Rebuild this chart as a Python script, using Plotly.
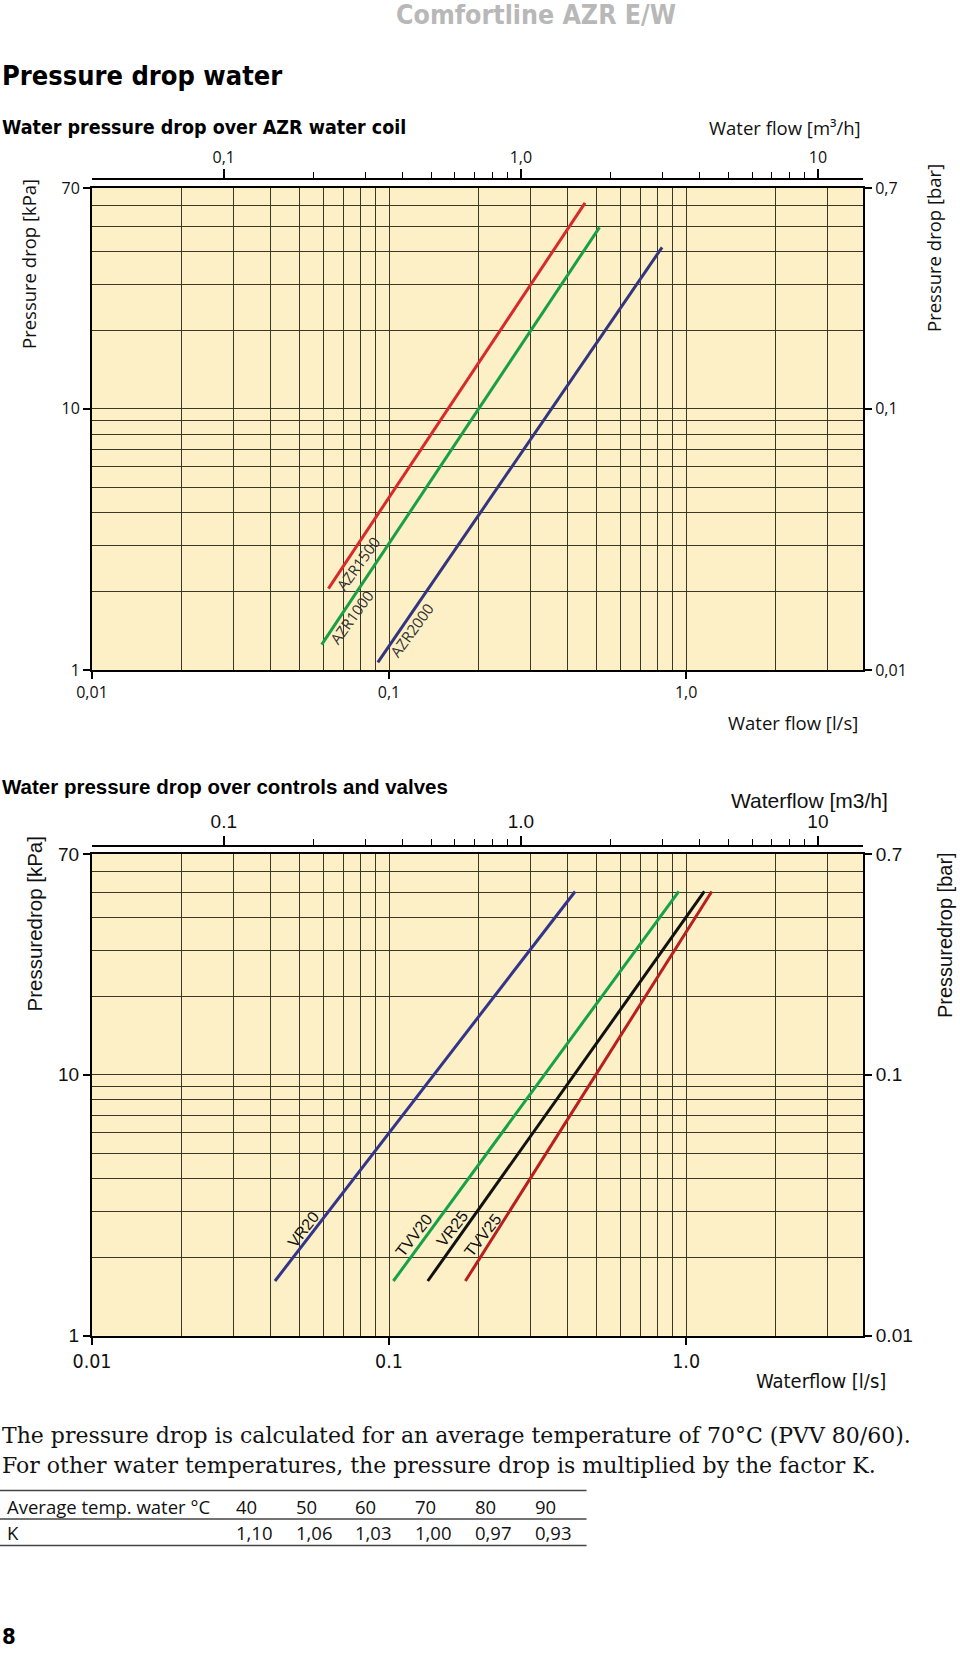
import numpy as np
import plotly.graph_objects as go

W, H = 960, 1654

# chart 1: water coil, flow [l/s] vs pressure drop [kPa]
azr_names = ["AZR1500", "AZR1000", "AZR2000"]
azr_flow = [[0.0625, 0.457], [0.0593, 0.511], [0.0917, 0.830]]
azr_dp = [[2.05, 61.4], [1.25, 49.5], [1.07, 41.5]]
azr_colors = ["#d62a2c", "#1b9e49", "#34357f"]
azr_label_flow = [0.0788, 0.0749, 0.1192]
azr_label_dp = [2.57, 1.59, 1.42]

# chart 2: controls and valves
valve_names = ["VR20", "TVV20", "VR25", "TVV25"]
valve_flow = [[0.0413, 0.423], [0.1034, 0.945], [0.135, 1.152], [0.1807, 1.22]]
valve_dp = [[1.62, 50.3], [1.62, 50.3], [1.62, 50.3], [1.62, 50.3]]
valve_colors = ["#33358a", "#17a14a", "#111111", "#b81f1f"]
valve_label_flow = [0.0514, 0.1214, 0.1633, 0.2061]
valve_label_dp = [2.56, 2.41, 2.58, 2.43]

# temperature correction table
temps = ["40", "50", "60", "70", "80", "90"]
k_factor = ["1,10", "1,06", "1,03", "1,00", "0,97", "0,93"]

flow_grid = [0.02, 0.03, 0.04, 0.05, 0.06, 0.07, 0.08, 0.09,
             0.2, 0.3, 0.4, 0.5, 0.6, 0.7, 0.8, 0.9, 2, 3]
dp_grid = [2, 3, 4, 5, 6, 7, 8, 9, 20, 30, 40, 50, 60]
m3h_minor = [0.2, 0.3, 0.4, 0.5, 0.6, 0.7, 0.8, 0.9, 2, 3, 4, 5, 6, 7, 8, 9]

FLOW_RANGE = [np.log10(0.01), np.log10(3.94)]
M3H_RANGE = [r + np.log10(3.6) for r in FLOW_RANGE]
DP_RANGE = [0, np.log10(70)]
BAR_RANGE = [-2, np.log10(0.7)]

GRID = "#3b3726"
BG = "#fdf0c6"
FRUT = "Open Sans, Noto Sans, sans-serif"
HELV = "Liberation Sans, Arial, sans-serif"
NARROW = "DejaVu Sans Condensed, sans-serif"


def px(x):
    return x / W


def py(y):
    return 1 - y / H


X_DOM = [px(92), px(863)]
Y1_DOM = [py(670), py(188)]
Y2_DOM = [py(1335.7), py(854)]


def bottom_axis(anchor, ticktext, font):
    return dict(domain=X_DOM, anchor=anchor, type="log", range=FLOW_RANGE,
                tickmode="array", tickvals=[0.01, 0.1, 1], ticktext=ticktext,
                ticks="outside", ticklen=7, tickwidth=2, tickcolor="black",
                showline=True, linewidth=2, linecolor="black", mirror=True,
                showgrid=True, gridcolor=GRID, gridwidth=1, zeroline=False,
                minor=dict(tickmode="array", tickvals=flow_grid, showgrid=True,
                           gridcolor=GRID, gridwidth=1, ticks=""),
                tickfont=font, automargin=False, fixedrange=True)


def left_axis(domain, anchor, ticktext, font):
    return dict(domain=domain, anchor=anchor, type="log", range=DP_RANGE,
                tickmode="array", tickvals=[1, 10, 70], ticktext=ticktext,
                ticks="outside", ticklen=7, tickwidth=2, tickcolor="black",
                showline=True, linewidth=2, linecolor="black", mirror=True,
                showgrid=True, gridcolor=GRID, gridwidth=1, zeroline=False,
                minor=dict(tickmode="array", tickvals=dp_grid, showgrid=True,
                           gridcolor=GRID, gridwidth=1, ticks=""),
                tickfont=font, automargin=False, fixedrange=True)


def top_axis(over, pos, ticktext, font):
    return dict(domain=X_DOM, overlaying=over, anchor="free", position=pos,
                side="top", type="log", range=M3H_RANGE,
                tickmode="array", tickvals=[0.1, 1, 10], ticktext=ticktext,
                ticks="outside", ticklen=9, tickwidth=2, tickcolor="black",
                showline=True, linewidth=2, linecolor="black", showgrid=False,
                zeroline=False,
                minor=dict(tickmode="array", tickvals=m3h_minor, ticks="outside",
                           ticklen=6, tickwidth=1, tickcolor="black", showgrid=False),
                tickfont=font, automargin=False, fixedrange=True)


def right_axis(over, anchor, ticktext, font):
    return dict(overlaying=over, anchor=anchor, side="right", type="log",
                range=BAR_RANGE, tickmode="array", tickvals=[0.01, 0.1, 0.7],
                ticktext=ticktext, ticks="outside", ticklen=7, tickwidth=2,
                tickcolor="black", showline=True, linewidth=2, linecolor="black",
                showgrid=False, zeroline=False, tickfont=font,
                automargin=False, fixedrange=True)


fig = go.Figure()

for name, fl, dp, col in zip(azr_names, azr_flow, azr_dp, azr_colors):
    fig.add_trace(go.Scatter(x=fl, y=dp, mode="lines", name=name,
                             line=dict(color=col, width=3),
                             xaxis="x", yaxis="y", showlegend=False))

for name, fl, dp, col in zip(valve_names, valve_flow, valve_dp, valve_colors):
    fig.add_trace(go.Scatter(x=fl, y=dp, mode="lines", name=name,
                             line=dict(color=col, width=3),
                             xaxis="x3", yaxis="y3", showlegend=False))

# empty traces so the secondary axes get drawn
fig.add_trace(go.Scatter(x=[None], y=[None], xaxis="x2", yaxis="y2",
                         showlegend=False, hoverinfo="skip"))
fig.add_trace(go.Scatter(x=[None], y=[None], xaxis="x4", yaxis="y4",
                         showlegend=False, hoverinfo="skip"))

f1_tick = dict(family=FRUT, size=16, color="#111")
f2_tick = dict(family=HELV, size=19, color="#111")
f2_bot = dict(family=NARROW, size=19.5, color="#111")

fig.update_layout(
    width=W, height=H, autosize=False,
    margin=dict(l=0, r=0, t=0, b=0, pad=0, autoexpand=False),
    paper_bgcolor="white", plot_bgcolor=BG, showlegend=False,
    xaxis=bottom_axis("y", ["0,01", "0,1", "1,0"], f1_tick),
    yaxis=left_axis(Y1_DOM, "x", ["1", "10", "70"], f1_tick),
    xaxis2=top_axis("x", py(179), ["0,1", "1,0", "10"], f1_tick),
    yaxis2=right_axis("y", "x", ["0,01", "0,1", "0,7"], f1_tick),
    xaxis3=bottom_axis("y3", ["0.01", "0.1", "1.0"], f2_bot),
    yaxis3=left_axis(Y2_DOM, "x3", ["1", "10", "70"], f2_tick),
    xaxis4=top_axis("x3", py(845.7), ["0.1", "1.0", "10"], f2_tick),
    yaxis4=right_axis("y3", "x3", ["0.01", "0.1", "0.7"], f2_tick),
)

ann = []


def text(x, y, s, font, xanchor="left", angle=0):
    ann.append(dict(x=px(x), y=py(y), xref="paper", yref="paper", text=s,
                    showarrow=False, xanchor=xanchor, yanchor="middle",
                    textangle=angle, font=font))


# page texts
text(536, 15, "Comfortline AZR E/W",
     dict(family=NARROW, size=26.5, color="#b8b8b8", weight="bold"), "center")
text(0, 76, "Pressure drop water",
     dict(family=NARROW, size=27, color="black", weight="bold"))

# chart 1 texts
text(0, 127.6, "Water pressure drop over AZR water coil",
     dict(family=NARROW, size=19.5, color="black", weight="bold"))
text(863, 127.6, "Water flow [m³/h]", dict(family=FRUT, size=18.5, color="#111"), "right")
text(28, 264, "Pressure drop [kPa]", dict(family=FRUT, size=18.5, color="#111"), "center", -90)
text(933, 248, "Pressure drop [bar]", dict(family=FRUT, size=18.5, color="#111"), "center", -90)
text(860, 722.7, "Water flow [l/s]", dict(family=FRUT, size=18.5, color="#111"), "right")

# chart 2 texts
text(0, 786.7, "Water pressure drop over controls and valves",
     dict(family=HELV, size=20.5, color="black", weight="bold"))
text(890, 800, "Waterflow [m3/h]", dict(family=HELV, size=21, color="#111"), "right")
text(34, 924.5, "Pressuredrop [kPa]", dict(family=HELV, size=20.5, color="#111"), "center", -90)
text(945, 935, "Pressuredrop [bar]", dict(family=HELV, size=20, color="#111"), "center", -90)
text(888, 1381, "Waterflow [l/s]", dict(family=NARROW, size=20, color="#111"), "right")

# line labels
for name, lx, ly in zip(azr_names, azr_label_flow, azr_label_dp):
    ann.append(dict(x=np.log10(lx), y=np.log10(ly), xref="x", yref="y", text=name,
                    showarrow=False, textangle=-54,
                    font=dict(family=FRUT, size=15, color="#333")))
for name, lx, ly in zip(valve_names, valve_label_flow, valve_label_dp):
    ann.append(dict(x=np.log10(lx), y=np.log10(ly), xref="x3", yref="y3", text=name,
                    showarrow=False, textangle=-52,
                    font=dict(family=HELV, size=16, color="#111")))

# explanatory text
serif = dict(family="DejaVu Serif, Liberation Serif, serif", size=22, color="#111")
text(0, 1435, "The pressure drop is calculated for an average temperature of 70°C (PVV 80/60).", serif)
text(0, 1465, "For other water temperatures, the pressure drop is multiplied by the factor K.", serif)

# table
tfont = dict(family=FRUT, size=18.5, color="#111")
text(5, 1506, "Average temp. water °C", tfont)
text(5, 1532, "K", tfont)
for i, (t, k) in enumerate(zip(temps, k_factor)):
    text(234 + i * 59.7, 1506, t, tfont)
    text(234 + i * 59.7, 1532, k, tfont)

text(0, 1636, "8", dict(family=NARROW, size=22, color="black", weight="bold"))

shapes = []
for yl in [1490.6, 1519, 1545.4]:
    shapes.append(dict(type="line", xref="paper", yref="paper",
                       x0=0, x1=px(586.5), y0=py(yl), y1=py(yl),
                       line=dict(color="#444", width=1.5)))

fig.update_layout(annotations=ann, shapes=shapes)

# drop the browser's default page margin so the figure sits at the top-left corner
fig.write_html("out.html", config={"displayModeBar": False},
               post_script="document.body.style.margin='0px';")
